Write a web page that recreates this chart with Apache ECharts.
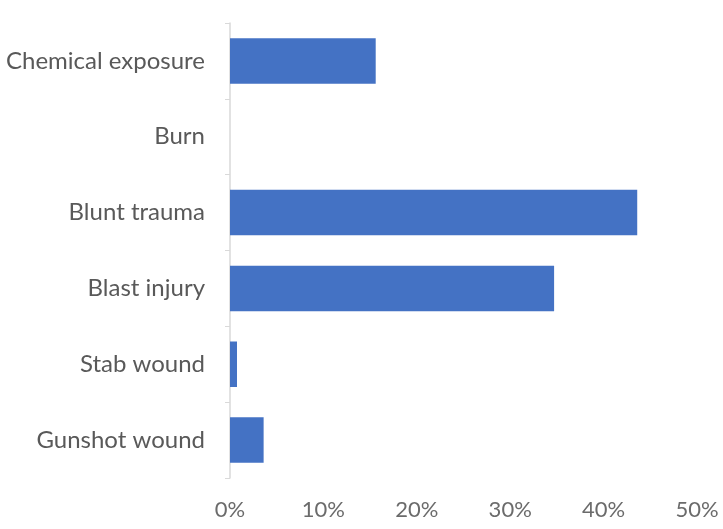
<!DOCTYPE html>
<html><head><meta charset="utf-8">
<script src="https://cdn.jsdelivr.net/npm/echarts@6/dist/echarts.min.js"></script>
<style>html,body{margin:0;padding:0;background:#fff}#c{width:723px;height:529px}</style>
</head><body><div id="c"></div>
<script>
const categories = ["Chemical exposure", "Burn", "Blunt trauma", "Blast injury", "Stab wound", "Gunshot wound"];
const values = [15.6, 0, 43.6, 34.7, 0.75, 3.6];
const xTicks = [0, 10, 20, 30, 40, 50];

const chart = echarts.init(document.getElementById('c'));
chart.setOption({
  animation: false,
  grid: { left: 230, right: 26, top: 23, bottom: 51, containLabel: false },
  xAxis: {
    type: 'value', min: 0, max: 50, interval: 10,
    axisLine: { show: false }, axisTick: { show: false },
    splitLine: { show: false },
    axisLabel: { formatter: v => v + '%', color: '#6b6b6b', fontSize: 22, fontFamily: 'Lato', margin: 21 }
  },
  yAxis: {
    type: 'category', data: categories.slice().reverse(), inverse: false,
    axisLine: { lineStyle: { color: '#d9d9d9', width: 1.5 } },
    axisTick: { show: true, length: 5, lineStyle: { color: '#d9d9d9' } },
    axisLabel: { color: '#595959', fontSize: 24, fontFamily: 'Lato', margin: 25, letterSpacing: 0.2 }
  },
  series: [{
    type: 'bar', data: values.slice().reverse(), barCategoryGap: '40%',
    itemStyle: { color: '#4472C4' }
  }]
});
</script></body></html>
